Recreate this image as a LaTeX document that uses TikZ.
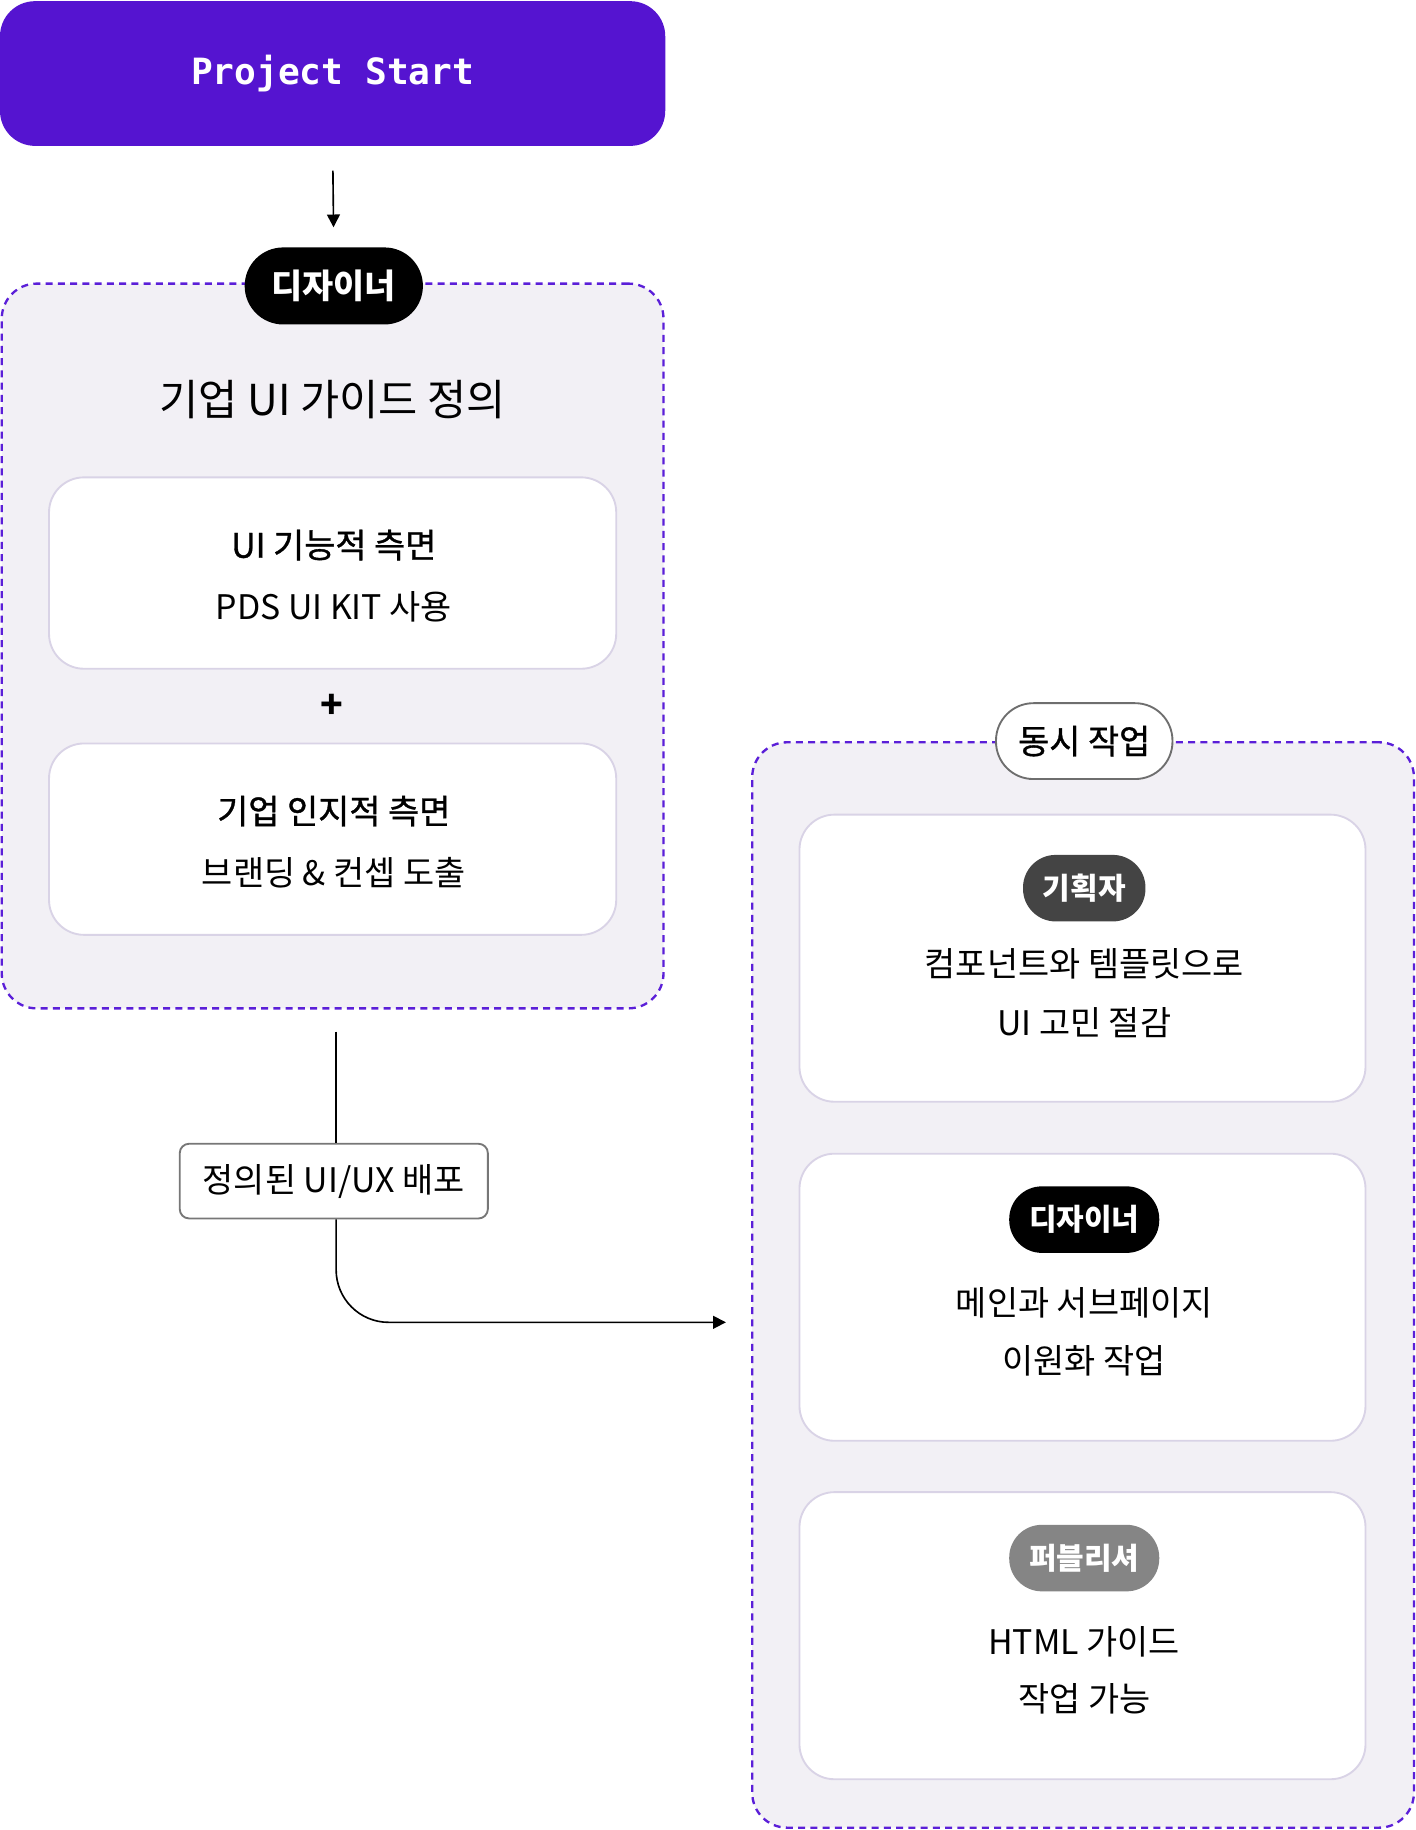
\documentclass[tikz,border=0pt]{standalone}
\usepackage{fontspec}
\setmainfont{Noto Sans CJK KR}
\newfontfamily\krmed[FakeBold=1]{Noto Sans CJK KR}
\setmonofont{DejaVu Sans Mono}
\usepackage{xcolor}
\usetikzlibrary{arrows.meta,positioning,calc}

\definecolor{startpurple}{HTML}{5514D0}
\definecolor{dashpurple}{HTML}{5B1FD8}
\definecolor{groupbg}{HTML}{F2F0F5}
\definecolor{cardline}{HTML}{D9D3E6}
\definecolor{labelline}{HTML}{777777}
\definecolor{syncline}{HTML}{6E6E6E}
\definecolor{plannerbg}{HTML}{444444}
\definecolor{publisherbg}{HTML}{858585}

\tikzset{
  startbox/.style={fill=startpurple, rounded corners=30pt, minimum width=570pt,
    minimum height=124pt, text=white, font=\ttfamily\bfseries\fontsize{31}{36}\selectfont},
  group/.style={draw=dashpurple, line width=2pt, dash pattern=on 6pt off 4.5pt,
    fill=groupbg, rounded corners=30pt},
  card/.style={draw=cardline, line width=1.6pt, fill=white, rounded corners=30pt,
    minimum width=486pt},
  pill/.style={rounded corners=28pt, minimum height=57pt, inner xsep=17pt,
    text=white, font=\bfseries\fontsize{25.7}{30}\selectfont},
  head/.style={font=\krmed\fontsize{29}{34}\selectfont},
  body/.style={font=\fontsize{29}{34}\selectfont},
  flow/.style={line width=1.4pt, -{Triangle[length=11pt,width=11pt]}}
}

\begin{document}
\begin{tikzpicture}[x=1pt,y=-1pt]
\useasboundingbox (0,0) rectangle (1213,1568);

% start
\node[startbox] (start) at (285,63) {Project Start};

% designer group
\node[group, minimum width=567pt, minimum height=621pt] (plan) at (285,553.5) {};
\node[pill, fill=black, rounded corners=33pt, minimum height=66pt, inner xsep=23pt,
  font=\bfseries\fontsize{29}{34}\selectfont] (designer) at (286,245) {디자이너};
\draw[flow, shorten <=21pt, shorten >=17pt] (start.south) -- (designer.north);
\node[font=\fontsize{36.5}{42}\selectfont] (plantitle) at (285,342) {기업 UI 가이드 정의};

\node[card, minimum height=164pt] (func) at (285,491) {};
\node[head] (funchead) at (286,467) {UI 기능적 측면};
\node[body] (funcbody) at (286,520) {PDS UI KIT 사용};
\node[font=\bfseries\fontsize{32}{36}\selectfont] (plus) at (284,605) {+};
\node[card, minimum height=164pt] (brand) at (285,719) {};
\node[head] (brandhead) at (286,695) {기업 인지적 측면};
\node[body] (brandbody) at (286,748) {브랜딩 \& 컨셉 도출};

% deploy
\coordinate (deploytop) at (288,884);
\coordinate (deployend) at (622,1133);
\node[draw=labelline, line width=1.6pt, fill=white, rounded corners=8pt,
  minimum width=264pt, minimum height=64pt, font=\fontsize{29}{34}\selectfont]
  (deploy) at (286,1012) {정의된 UI/UX 배포};
\draw[line width=1.4pt] (deploytop) -- (deploytop |- deploy.north);
\draw[flow, rounded corners=45pt] (deploytop |- deploy.south) |- (deployend);

% parallel work group
\node[group, minimum width=567pt, minimum height=930pt] (sync) at (928,1101) {};
\node[draw=syncline, line width=1.6pt, fill=white, rounded corners=32pt,
  minimum height=65pt, inner xsep=19pt, font=\krmed\fontsize{29}{34}\selectfont]
  (synclabel) at (929,635) {동시 작업};

\node[card, minimum width=485pt, minimum height=246pt] (planner) at (927.5,821) {};
\node[pill, fill=plannerbg] (plannerpill) at (929,761) {기획자};
\node[body] (planner1) at (929,826) {컴포넌트와 템플릿으로};
\node[body] (planner2) at (929,876) {UI 고민 절감};

\node[card, minimum width=485pt, minimum height=246pt] (design) at (927.5,1111.5) {};
\node[pill, fill=black] (designpill) at (929,1045) {디자이너};
\node[body] (design1) at (929,1116) {메인과 서브페이지};
\node[body] (design2) at (929,1166) {이원화 작업};

\node[card, minimum width=485pt, minimum height=246pt] (publish) at (927.5,1401.5) {};
\node[pill, fill=publisherbg] (publishpill) at (929,1335) {퍼블리셔};
\node[body] (publish1) at (929,1407) {HTML 가이드};
\node[body] (publish2) at (929,1456) {작업 가능};
\end{tikzpicture}
\end{document}
